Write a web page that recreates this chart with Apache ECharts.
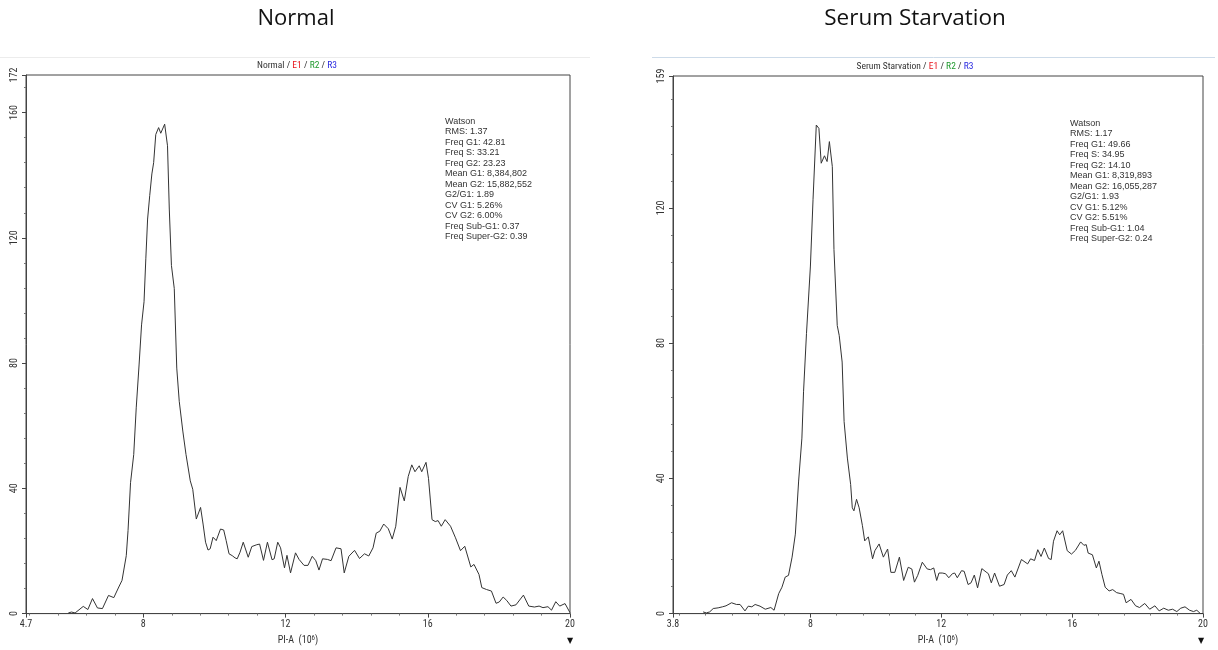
<!DOCTYPE html>
<html><head><meta charset="utf-8">
<script src="https://cdn.jsdelivr.net/npm/echarts@6/dist/echarts.min.js"></script>
<style>html,body{margin:0;padding:0;background:#fff}#c{width:1218px;height:650px}</style>
</head><body><div id="c"></div>
<script>
// ---- Normal (left) histogram ----
const normalPI = [5.89,5.98,6.08,6.31,6.44,6.57,6.71,6.85,7.02,7.17,7.31,7.40,7.52,7.57,7.64,7.73,7.80,7.88,7.95,8.02,8.07,8.12,8.18,8.24,8.29,8.35,8.43,8.49,8.60,8.68,8.73,8.79,8.87,8.94,9.01,9.11,9.20,9.32,9.39,9.49,9.61,9.68,9.75,9.82,9.88,9.96,10.05,10.17,10.26,10.33,10.41,10.50,10.58,10.64,10.72,10.81,10.95,11.05,11.19,11.27,11.38,11.49,11.62,11.68,11.78,11.86,11.97,12.04,12.14,12.28,12.38,12.52,12.63,12.75,12.85,12.94,13.04,13.18,13.28,13.42,13.56,13.65,13.78,13.94,14.08,14.22,14.34,14.46,14.55,14.65,14.76,14.89,15.00,15.10,15.22,15.34,15.45,15.55,15.64,15.76,15.83,15.95,16.02,16.12,16.21,16.29,16.38,16.49,16.64,16.78,16.92,17.04,17.21,17.30,17.44,17.52,17.65,17.79,17.92,18.01,18.12,18.22,18.34,18.48,18.69,18.84,19.00,19.13,19.24,19.38,19.48,19.60,19.71,19.86,20.00];
const normalCount = [0.2,0.5,0.2,2.3,1.3,4.8,1.8,1.6,5.8,5.1,8.5,10.6,18.5,26.5,41.8,50.8,65.7,79.4,92.2,99.6,113.3,126,133.5,140.4,144,153,155.2,153.4,156.3,149.4,129.2,111.2,103.8,78.4,67.8,58.3,50.8,42.4,39.7,30.2,33.9,28.6,22.8,20.3,20.7,24.4,23.3,27,26.7,23.3,19.1,18.5,17.8,17.5,19.6,22.8,18,21.4,22,22.2,17,22.8,17.2,17.5,22.8,21,14.6,18.6,13,19.4,17.3,15.4,15.4,18.3,16.9,13.9,17.5,17.3,16.9,21,20.7,13,18.3,20.2,17.6,19.1,18.4,21,25.7,26.3,28.6,27.1,23.8,27.9,40.3,36,43.8,47.5,45.3,47.2,45.3,48.3,43.2,30,29.4,29.7,27.9,30,27.9,24.2,20.1,21.5,14.9,15.7,12.5,8.3,7.7,7.2,3.3,3.7,5.3,4.2,2.4,2.8,5.9,2.4,2.1,2.4,1.9,2.2,1.1,3.8,2.4,3.2,0.3];

// ---- Serum Starvation (right) histogram ----
const serumPI = [4.72,4.82,4.92,5.03,5.18,5.31,5.42,5.59,5.74,5.85,6.00,6.10,6.21,6.31,6.46,6.62,6.79,6.89,6.95,7.03,7.13,7.23,7.33,7.44,7.54,7.64,7.74,7.79,7.88,7.94,8.00,8.08,8.18,8.26,8.33,8.43,8.51,8.58,8.67,8.72,8.82,8.88,8.97,9.03,9.13,9.23,9.28,9.33,9.41,9.49,9.59,9.66,9.77,9.90,9.97,10.10,10.23,10.36,10.46,10.58,10.72,10.85,10.99,11.10,11.18,11.28,11.42,11.57,11.67,11.77,11.86,11.93,12.03,12.13,12.23,12.34,12.41,12.49,12.62,12.70,12.82,12.91,13.01,13.11,13.24,13.37,13.44,13.53,13.63,13.78,13.92,14.02,14.14,14.25,14.45,14.64,14.73,14.85,14.95,15.05,15.15,15.21,15.28,15.36,15.43,15.54,15.62,15.71,15.85,15.98,16.10,16.26,16.36,16.43,16.49,16.62,16.74,16.82,16.91,17.01,17.13,17.24,17.36,17.49,17.57,17.65,17.80,17.94,18.06,18.22,18.37,18.53,18.66,18.80,18.94,19.07,19.20,19.32,19.45,19.59,19.71,19.81,19.92,20.00];
const serumCount = [0.5,0.2,0.5,1.5,1.7,2,2.3,3.2,2.7,2.7,0.8,2.2,2,2.7,2.2,1.3,1.8,1,1,5.9,7.8,10.8,11.3,16.7,23.5,39.2,51.9,65.6,82.8,82.8,102.8,122.4,144.5,143.5,133.2,135.4,133.7,139.6,132.2,107.7,85.2,82.3,74.4,56.8,46,38.2,31.3,30.4,33.8,31.3,26,21.5,22.7,16.2,18.6,20.6,16.7,19.1,12.2,12.2,16.7,9.8,13.7,13.2,9.3,11.3,15.2,13.2,13,13.5,9.8,12,12,11.8,10.6,11.8,12,10.6,12.7,12.5,8.6,9.1,11.4,7.6,13.3,12.3,11.8,9.1,12,8.1,8.6,11.4,12.7,10.8,16,14.7,16.2,15.7,18.9,16.9,19.4,19.2,16.3,16,21.4,24.5,23.3,24.5,18.6,17.6,18.7,21.2,20.2,20.4,17.9,17.4,13.5,15.5,11.6,7.8,6.7,7.1,6.2,5.9,5.7,3.2,4.2,2.3,1.8,3,1.3,2.3,0.8,1.6,1,1.3,0.6,1.6,2,1,0.6,1,0,0];

// ---- tick labels ----
const normalXLabels = [4.7, 8, 12, 16, 20];
const normalXMinor = [4.8,5.6,6.4,7.2,8.8,9.6,10.4,11.2,12.8,13.6,14.4,15.2,16.8,17.6,18.4,19.2];
const normalYLabels = [0, 40, 80, 120, 160, 172];
const normalYMinor = [8,16,24,32,48,56,64,72,88,96,104,112,128,136,144,152,168];
const serumXLabels = [3.8, 8, 12, 16, 20];
const serumXMinor = [4.0,4.8,5.6,6.4,7.2,8.8,9.6,10.4,11.2,12.8,13.6,14.4,15.2,16.8,17.6,18.4,19.2];
const serumYLabels = [0, 40, 80, 120, 159];
const serumYMinor = [8,16,24,32,48,56,64,72,88,96,104,112,128,136,144,152];

const normalStats = ['Watson','RMS: 1.37','Freq G1: 42.81','Freq S: 33.21','Freq G2: 23.23','Mean G1: 8,384,802','Mean G2: 15,882,552','G2/G1: 1.89','CV G1: 5.26%','CV G2: 6.00%','Freq Sub-G1: 0.37','Freq Super-G2: 0.39'];
const serumStats = ['Watson','RMS: 1.17','Freq G1: 49.66','Freq S: 34.95','Freq G2: 14.10','Mean G1: 8,319,893','Mean G2: 16,055,287','G2/G1: 1.93','CV G1: 5.12%','CV G2: 5.51%','Freq Sub-G1: 1.04','Freq Super-G2: 0.24'];

const FONT = '"Liberation Sans Narrow","Roboto Condensed","Liberation Sans",Arial,sans-serif';
const STATFONT = '"Liberation Sans",Arial,sans-serif';
const TITLEFONT = '"Open Sans",sans-serif';
const AX = '#444';

function zip(a, b) { return a.map((v, i) => [v, b[i]]); }

function xAxes(gi, min, labels, minor) {
  return [{
    type: 'value', gridIndex: gi, min: min, max: 20, position: 'bottom',
    axisLine: {show: true, lineStyle: {color: AX, width: 1}},
    axisTick: {show: true, inside: false, length: 4, customValues: labels, lineStyle: {color: AX}},
    axisLabel: {customValues: labels, fontSize: 10, color: '#333', margin: 6, fontFamily: FONT},
    splitLine: {show: false},
    name: 'PI-A  (10{sup|6})', nameLocation: 'middle', nameGap: 19,
    nameTextStyle: {fontSize: 10, color: '#333', fontFamily: FONT,
      rich: {sup: {fontSize: 7, verticalAlign: 'top', color: '#333', fontFamily: FONT, padding: [0, 0, 4, 0]}}}
  }, {
    type: 'value', gridIndex: gi, min: min, max: 20, position: 'bottom',
    axisLine: {show: false},
    axisTick: {show: true, inside: false, length: 2, customValues: minor, lineStyle: {color: '#777'}},
    axisLabel: {show: false}, splitLine: {show: false}
  }];
}
function yAxes(gi, max, labels, minor) {
  return [{
    type: 'value', gridIndex: gi, min: 0, max: max, position: 'left',
    axisLine: {show: true, lineStyle: {color: AX, width: 1}},
    axisTick: {show: true, inside: false, length: 4, customValues: labels, lineStyle: {color: AX}},
    axisLabel: {customValues: labels, rotate: 90, fontSize: 10, color: '#333', margin: 7, fontFamily: FONT},
    splitLine: {show: false}
  }, {
    type: 'value', gridIndex: gi, min: 0, max: max, position: 'left',
    axisLine: {show: false},
    axisTick: {show: true, inside: false, length: 2, customValues: minor, lineStyle: {color: '#777'}},
    axisLabel: {show: false}, splitLine: {show: false}
  }];
}

function statsText(x, y, lines) {
  return lines.map((t, i) => ({
    type: 'text', left: x, top: y + i * 10.5,
    style: {text: t, fontSize: 9, fill: '#333', fontFamily: STATFONT}
  }));
}

function sub(name) {
  const st = (c) => ({fontSize: 9.5, fill: c, fontFamily: FONT});
  return {
    text: '{k|' + name + ' / }{r|E1}{k| / }{g|R2}{k| / }{b|R3}', align: 'center', verticalAlign: 'middle',
    rich: {k: st('#333'), r: st('#e8141c'), g: st('#1f9a2e'), b: st('#2a2ae0')}
  };
}

const chart = echarts.init(document.getElementById('c'), null, {renderer: 'canvas'});
chart.setOption({
  animation: false,
  backgroundColor: '#fff',
  grid: [
    {left: 26, top: 75, width: 544, height: 541, show: true, borderColor: AX, borderWidth: 1, backgroundColor: 'transparent'},
    {left: 673, top: 76, width: 530, height: 540, show: true, borderColor: AX, borderWidth: 1, backgroundColor: 'transparent'}
  ],
  xAxis: [].concat(xAxes(0, 4.7, normalXLabels, normalXMinor), xAxes(1, 3.8, serumXLabels, serumXMinor)),
  yAxis: [].concat(yAxes(0, 172, normalYLabels, normalYMinor), yAxes(1, 159, serumYLabels, serumYMinor)),
  series: [
    {type: 'line', xAxisIndex: 0, yAxisIndex: 0, data: zip(normalPI, normalCount), showSymbol: false, smooth: false,
     lineStyle: {color: '#333', width: 1}, silent: true},
    {type: 'line', xAxisIndex: 2, yAxisIndex: 2, data: zip(serumPI, serumCount), showSymbol: false, smooth: false,
     lineStyle: {color: '#333', width: 1}, silent: true}
  ],
  graphic: [
    {type: 'line', shape: {x1: 0, y1: 57.5, x2: 590, y2: 57.5}, style: {stroke: '#ececec', lineWidth: 1}},
    {type: 'line', shape: {x1: 652, y1: 57.5, x2: 1215, y2: 57.5}, style: {stroke: '#cddbe9', lineWidth: 1}},
    {type: 'text', x: 296, y: 19, style: {text: 'Normal', fontSize: 22, fill: '#111', fontFamily: TITLEFONT, align: 'center', verticalAlign: 'middle'}},
    {type: 'text', x: 915, y: 19, style: {text: 'Serum Starvation', fontSize: 22.5, fill: '#111', fontFamily: TITLEFONT, align: 'center', verticalAlign: 'middle'}},
    {type: 'text', x: 297, y: 66, style: sub('Normal')},
    {type: 'text', x: 915, y: 67, style: sub('Serum Starvation')},
    {type: 'text', x: 570, y: 641, style: {text: '▼', fontSize: 8, fill: '#111', fontFamily: '"DejaVu Sans"', align: 'center', verticalAlign: 'middle'}},
    {type: 'text', x: 1201, y: 641, style: {text: '▼', fontSize: 8, fill: '#111', fontFamily: '"DejaVu Sans"', align: 'center', verticalAlign: 'middle'}}
  ].concat(statsText(445, 117, normalStats), statsText(1070, 119, serumStats))
});
</script>
</body></html>
